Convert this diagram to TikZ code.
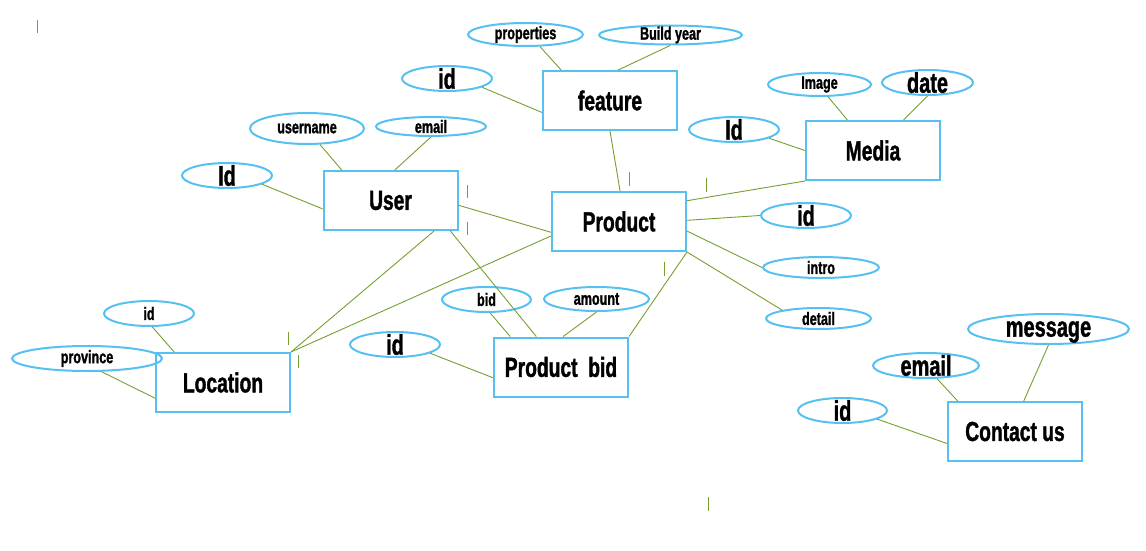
\documentclass[tikz,border=0pt]{standalone}
\usepackage{fontspec}
\usetikzlibrary{shapes.geometric,calc}
\newfontfamily\imp[FakeStretch=0.7,FakeBold=1.3]{Liberation Sans}
\definecolor{eblue}{RGB}{86,192,240}
\definecolor{lgreen}{RGB}{118,158,48}
\begin{document}
\begin{tikzpicture}[x=1pt,y=-1pt,
 ent/.style={draw=eblue,line width=2pt,rectangle,minimum width=134pt,minimum height=59pt,inner sep=0pt,font=\imp\bfseries\fontsize{27.5}{28}\selectfont},
 attr/.style={draw=eblue,line width=2pt,ellipse,inner xsep=0pt,inner ysep=-6pt,font=\imp\bfseries\fontsize{18}{18}\selectfont},
 bigattr/.style={attr,font=\imp\bfseries\fontsize{28.5}{29}\selectfont},
 link/.style={draw=lgreen,line width=0.9pt},
 tick/.style={draw=lgreen,line width=1pt}]
\useasboundingbox (0,0) rectangle (1146,551);

% entities
\node[ent] (feature) at (610,100.5) {feature};
\node[ent] (User) at (390.5,200.5) {User};
\node[ent] (Product) at (619,221.5) {Product};
\node[ent] (Media) at (873,150.5) {Media};
\node[ent] (Location) at (223,382.5) {Location};
\node[ent] (PB) at (561,367) {Product\ \ bid};
\node[ent] (Contact) at (1015,431.5) {Contact us};

% attributes
\node[attr,minimum width=115pt,minimum height=23pt] (props) at (525.5,34.5) {properties};
\node[attr,minimum width=143pt,minimum height=19pt] (build) at (670.5,35) {Build year};
\node[bigattr,minimum width=90pt,minimum height=25pt] (idF) at (447,78.5) {id};
\node[attr,minimum width=103pt,minimum height=23pt] (image) at (819.5,84.5) {Image};
\node[bigattr,minimum width=91pt,minimum height=25pt] (date) at (927.5,82.5) {date};
\node[bigattr,minimum width=90pt,minimum height=25pt] (idM) at (734,129.5) {Id};
\node[attr,minimum width=114pt,minimum height=31pt] (uname) at (307,128.5) {username};
\node[attr,minimum width=110pt,minimum height=19pt] (emailU) at (431,126.5) {email};
\node[bigattr,minimum width=90pt,minimum height=25pt] (idU) at (227,175.5) {Id};
\node[bigattr,minimum width=90pt,minimum height=25pt] (idP) at (806,215.5) {id};
\node[attr,minimum width=116pt,minimum height=21pt] (intro) at (821,267.5) {intro};
\node[attr,minimum width=105pt,minimum height=21pt] (detail) at (818.5,318.5) {detail};
\node[attr,minimum width=90pt,minimum height=25pt] (idL) at (149,313.5) {id};
\node[attr,minimum width=150pt,minimum height=25pt] (prov) at (87,358.5) {province};
\node[attr,minimum width=89pt,minimum height=25pt] (bid) at (486.5,299.5) {bid};
\node[attr,minimum width=105pt,minimum height=24pt] (amount) at (596.5,299) {amount};
\node[bigattr,minimum width=90pt,minimum height=25pt] (idB) at (395,344.5) {id};
\node[bigattr,minimum width=161pt,minimum height=30pt,text depth=0pt] (msg) at (1048.5,329) {message};
\node[bigattr,minimum width=106pt,minimum height=25pt] (emailC) at (926,365.5) {email};
\node[bigattr,minimum width=89pt,minimum height=25pt] (idC) at (842.5,410.5) {id};

% connectors
\draw[link] (props.-40) -- (feature.148);
\draw[link] (build.-92) -- (feature.75);
\draw[link] (idF.-14) -- (feature.190);
\draw[link] (feature.-90) -- (Product.88);
\draw[link] (image.-55) -- (Media.130);
\draw[link] (date.-90) -- (Media.45);
\draw[link] (idM.-14) -- (Media.180);
\draw[link] (Media.south west) -- (Product.17);
\draw[link] (Product.1) -- (idP.180);
\draw[link] (Product.-8) -- (intro.180);
\draw[link] (Product.south east) -- (detail.167);
\draw[link] (Product.south east) -- (PB.north east);
\draw[link] (uname.-51) -- (User.148);
\draw[link] (emailU.-90) -- (User.82);
\draw[link] (idU.-14) -- (User.187);
\draw[link] (User.-4) -- (Product.189);
\draw[link] (User.-35) -- (Location.north east);
\draw[link] (Product.192) -- (Location.north east);
\draw[link] (User.-27) -- (PB.129);
\draw[link] (idL.-76) -- (Location.148);
\draw[link] (prov.-42) -- (Location.193);
\draw[link] (bid.-75) -- (PB.149);
\draw[link] (amount.-90) -- (PB.86);
\draw[link] (idB.-14) -- (PB.189);
\draw[link] (msg.-90) -- (Contact.74);
\draw[link] (emailC.-50) -- (Contact.152);
\draw[link] (idC.-14) -- (Contact.190);

% stray tick marks
\draw[tick] (37,20) -- (37,33);
\draw[tick] (467,185) -- (467,198);
\draw[tick] (467,222) -- (467,235);
\draw[tick] (629,172) -- (629,186);
\draw[tick] (706,178) -- (706,192);
\draw[tick] (664,262) -- (664,276);
\draw[tick] (708,497) -- (708,511);
\draw[tick] (288,332) -- (288,345);
\draw[tick] (298,355) -- (298,368);
\end{tikzpicture}
\end{document}
